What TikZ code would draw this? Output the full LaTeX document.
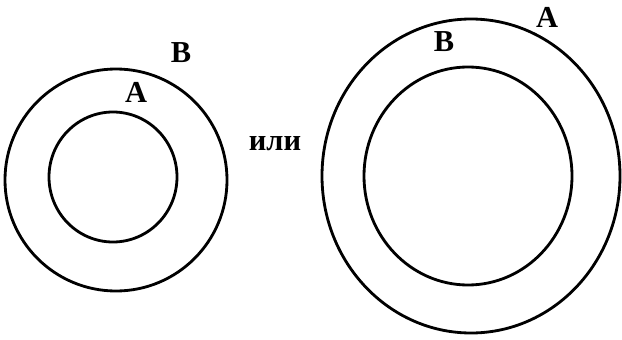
\documentclass[tikz,border=0pt]{standalone}
\usepackage{fontspec}
\setmainfont{Liberation Serif}
\tikzset{
    ring/.style={line width=2.4pt},
    letter/.style={font=\fontsize{26}{28}\selectfont\bfseries, inner sep=0pt}
}
\begin{document}
\begin{tikzpicture}[x=0.03cm, y=-0.03cm]
    % Fix the frame
    \useasboundingbox (0,0) rectangle (622,339);

    % Draw the left pair of circles
    \draw[ring] (116,180) ellipse (111 and 111);
    \draw[ring] (113,177) ellipse (64 and 65);

    % Draw the right pair of circles
    \draw[ring] (471,176) ellipse (149 and 157);
    \draw[ring] (468,176) ellipse (104 and 109);

    % Labels
    \node[letter] (leftB) at (181,53) {B};
    \node[letter] (leftA) at (136,92) {A};
    \node[letter] (word) at (275,144) {или};
    \node[letter] (rightB) at (444,42) {B};
    \node[letter] (rightA) at (547,17) {A};
\end{tikzpicture}
\end{document}
